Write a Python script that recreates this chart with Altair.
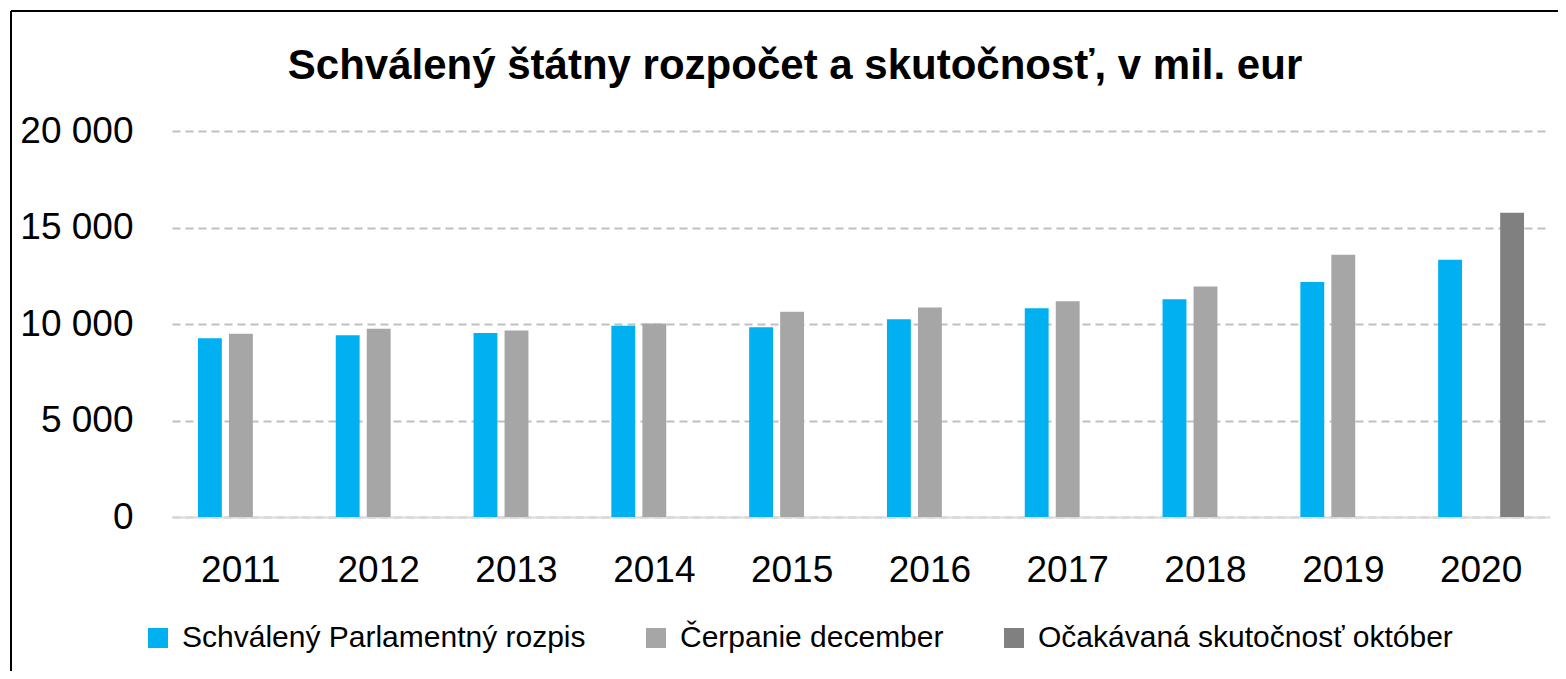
import altair as alt
import pandas as pd

FONT = "Liberation Sans, Arial"

years = ["2011", "2012", "2013", "2014", "2015", "2016", "2017", "2018", "2019", "2020"]
series = ["Schválený Parlamentný rozpis", "Čerpanie december", "Očakávaná skutočnosť október"]
colors = ["#00B0F0", "#A6A6A6", "#808080"]
title_text = "Schválený štátny rozpočet a skutočnosť, v mil. eur"

schvaleny = [9260, 9415, 9535, 9914, 9830, 10240, 10816, 11285, 12170, 13333]
cerpanie = [9500, 9760, 9660, 10020, 10640, 10860, 11180, 11944, 13594, None]
ocakavana = [None, None, None, None, None, None, None, None, None, 15764]

y_ticks = [0, 5000, 10000, 15000, 20000]

rows = []
for name, vals in zip(series, [schvaleny, cerpanie, ocakavana]):
    for yr, v in zip(years, vals):
        if v is not None:
            rows.append({"rok": yr, "seria": name, "hodnota": v})
df = pd.DataFrame(rows)

bars = alt.Chart(df).mark_bar().encode(
    x=alt.X(
        "rok:N",
        sort=years,
        scale=alt.Scale(domain=years, paddingInner=0.325, paddingOuter=0.1625),
        axis=alt.Axis(
            title=None, labelAngle=0, labelFont=FONT, labelFontSize=37,
            labelColor="black", labelPadding=35, ticks=False, tickSize=0,
            domainColor="#d9d9d9", domainWidth=2, grid=False,
        ),
    ),
    xOffset=alt.XOffset(
        "seria:N",
        scale=alt.Scale(domain=series, paddingInner=0.23, paddingOuter=0.115),
    ),
    y=alt.Y(
        "hodnota:Q",
        scale=alt.Scale(domain=[0, 20000], nice=False),
        axis=alt.Axis(
            title=None, values=y_ticks,
            labelExpr="replace(format(datum.value, ','), ',', ' ')",
            labelFont=FONT, labelFontSize=37, labelColor="black",
            labelPadding=39, ticks=False, tickSize=0, domain=False,
            grid=True, gridDash=[8, 5], gridColor="#c0c0c0", gridWidth=2,
        ),
    ),
    color=alt.Color(
        "seria:N",
        scale=alt.Scale(domain=series, range=colors),
        legend=alt.Legend(
            title=None, orient="none", legendX=-29, legendY=492,
            direction="horizontal", symbolType="square", symbolSize=400,
            symbolStrokeWidth=0, labelFont=FONT, labelFontSize=30,
            labelColor="black", labelOffset=9, columnPadding=55,
            labelLimit=800,
        ),
    ),
)

title = alt.Chart().mark_text(
    font=FONT, fontSize=42, fontWeight="bold", color="black",
    align="center", baseline="alphabetic",
).encode(x=alt.value(623), y=alt.value(-52), text=alt.value(title_text))

border_top = alt.Chart().mark_rule(color="black", strokeWidth=2).encode(
    x=alt.value(-161), x2=alt.value(1420), y=alt.value(-120)
)
border_left = alt.Chart().mark_rule(color="black", strokeWidth=2).encode(
    x=alt.value(-161), y=alt.value(-120), y2=alt.value(560)
)

chart = alt.layer(bars, title, border_top, border_left).properties(
    width=1378,
    height=386,
    padding={"left": 164, "top": 123, "right": 8, "bottom": 154},
    autosize=alt.AutoSizeParams(type="none"),
    background="white",
).configure_view(stroke=None)

chart.save("out.html", embed_options={"renderer": "svg", "actions": False})
